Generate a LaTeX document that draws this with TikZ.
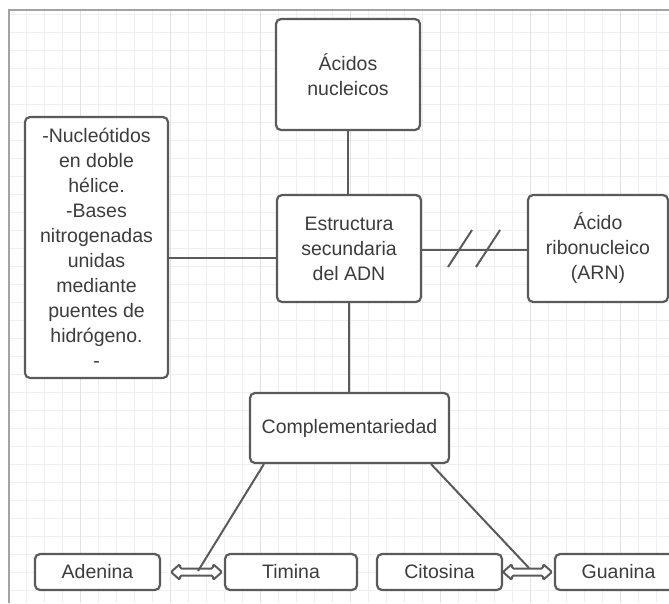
\documentclass[tikz,border=0pt]{standalone}
\usepackage{fontspec}
\setmainfont{Liberation Sans}
\usetikzlibrary{calc}
\definecolor{gridminor}{HTML}{EFEFEF}
\definecolor{gridmajor}{HTML}{E2E2E2}
\definecolor{frameline}{HTML}{A3A3A3}
\definecolor{boxline}{HTML}{5A5A5A}
\definecolor{ink}{HTML}{3C3C3C}
\tikzset{
  box/.style={draw=boxline, line width=2.2pt, rounded corners=5pt, fill=white,
    inner sep=0pt, align=center, text=ink,
    font=\fontsize{19.5}{25}\selectfont},
  link/.style={draw=boxline, line width=2pt},
  dblarrow/.style={draw=boxline, line width=2pt, fill=white, rounded corners=1.5pt, line join=round},
}
\begin{document}
\begin{tikzpicture}[x=1pt,y=-1pt]
\useasboundingbox (0,0) rectangle (669,603);
\clip (0,0) rectangle (669,603);
% background grid
\foreach \y in {14,32,...,600} \draw[gridminor, line width=1pt] (9,\y) -- (669,\y);
\foreach \x in {26,44,...,668} \draw[gridminor, line width=1pt] (\x,10) -- (\x,603);
\foreach \x in {80,170,...,668} \draw[gridmajor, line width=1pt] (\x,10) -- (\x,603);
% page frame
\draw[frameline, line width=2.4pt] (9,603) -- (9,10) -- (669,10);

% boxes
\node[box, minimum width=144pt, minimum height=111pt] (acidos) at (348,74.5) {Ácidos\\nucleicos};
\node[box, minimum width=143pt, minimum height=261pt] (lista) at (96.5,247.5)
  {-Nucleótidos\\en doble\\hélice.\\-Bases\\nitrogenadas\\unidas\\mediante\\puentes de\\hidrógeno.\\-};
\node[box, minimum width=144pt, minimum height=107pt] (estr) at (349,248.5) {Estructura\\secundaria\\del ADN};
\node[box, minimum width=140pt, minimum height=107pt] (arn) at (598,248.5) {Ácido\\ribonucleico\\(ARN)};
\node[box, minimum width=199pt, minimum height=70pt] (comp) at (349.5,428) {Complementariedad};
\node[box, minimum width=125pt, minimum height=36pt] (ade) at (97.5,572) {Adenina};
\node[box, minimum width=132pt, minimum height=36pt] (tim) at (291,572) {Timina};
\node[box, minimum width=125pt, minimum height=36pt] (cit) at (439.5,572) {Citosina};
\node[box, minimum width=127pt, minimum height=36pt] (gua) at (618.5,572) {Guanina};

% straight connectors
\draw[link] (acidos.south) -- (acidos.south |- estr.north);
\draw[link] (lista.east |- 0,258) -- (estr.west |- 0,258);
\draw[link] (estr.east |- 0,249.5) -- (arn.west |- 0,249.5);
\draw[link] (estr.south) -- (estr.south |- comp.north);
% break marks on the ARN link
\coordinate (s1a) at (448,267); \coordinate (s1b) at (472,230);
\coordinate (s2a) at (476,267); \coordinate (s2b) at (500,230);
\draw[link] (s1a) -- (s1b);
\draw[link] (s2a) -- (s2b);

% hollow double arrows between base pairs
\coordinate (l1) at (171,572); \coordinate (r1) at (222,572);
\coordinate (l2) at (503,572); \coordinate (r2) at (552,572);
\draw[dblarrow] (l1) -- ++(9,-8) -- ++(0,4.5) -- ($(r1)+(-9,-3.5)$) -- ++(0,-4.5) -- (r1)
  -- ++(-9,8) -- ++(0,-4.5) -- ($(l1)+(9,3.5)$) -- ++(0,4.5) -- cycle;
\draw[dblarrow] (l2) -- ++(9,-8) -- ++(0,4.5) -- ($(r2)+(-9,-3.5)$) -- ++(0,-4.5) -- (r2)
  -- ++(-9,8) -- ++(0,-4.5) -- ($(l2)+(9,3.5)$) -- ++(0,4.5) -- cycle;

% diagonal connectors down to the pairs
\coordinate (pa) at (198,571);
\coordinate (pb) at (529,568);
\draw[link] ($(comp.south west)+(15,0)$) -- (pa);
\draw[link] ($(comp.south east)+(-19,0)$) -- (pb);
\end{tikzpicture}
\end{document}
